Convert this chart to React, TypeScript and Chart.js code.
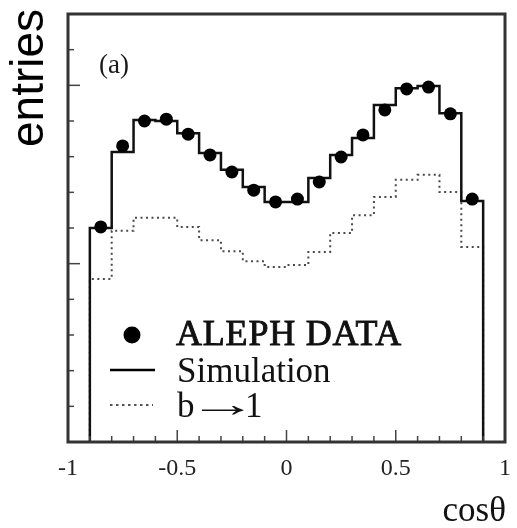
import { useEffect, useRef } from 'react';
import { Chart, registerables } from 'chart.js';

Chart.register(...registerables);

// Histogram binning in cos(theta)
const binEdges = [-0.9, -0.8, -0.7, -0.6, -0.5, -0.4, -0.3, -0.2, -0.1, 0, 0.1, 0.2, 0.3, 0.4, 0.5, 0.6, 0.7, 0.8, 0.9];
const binCenters = [-0.85, -0.75, -0.65, -0.55, -0.45, -0.35, -0.25, -0.15, -0.05, 0.05, 0.15, 0.25, 0.35, 0.45, 0.55, 0.65, 0.75, 0.85];

// Entries per bin
const alephData = [603, 830, 900, 905, 863, 805, 757, 706, 673, 681, 729, 799, 861, 931, 990, 995, 920, 681];
const simulation = [600, 813, 903, 900, 866, 810, 763, 715, 673, 673, 740, 805, 852, 945, 992, 998, 922, 676];
const bToLepton = [457, 592, 629, 629, 603, 566, 535, 507, 491, 496, 533, 586, 636, 687, 735, 749, 701, 547];

// Axis ticks
const xTickLabels = [-1, -0.5, 0, 0.5, 1];
const xMinorStep = 0.1;
const yMinorStep = 100;
const yMax = 1200;

function stepPoints(values: number[]) {
  const pts: { x: number; y: number }[] = [{ x: binEdges[0], y: 0 }];
  values.forEach((v, i) => {
    pts.push({ x: binEdges[i], y: v }, { x: binEdges[i + 1], y: v });
  });
  pts.push({ x: binEdges[binEdges.length - 1], y: 0 });
  return pts;
}

const decorations = {
  id: 'decorations',
  afterDraw(chart: any) {
    const { ctx, chartArea } = chart;
    const xs = chart.scales.x;
    const ys = chart.scales.y;
    const { left, right, top, bottom } = chartArea;
    ctx.save();

    // inward tick marks
    ctx.strokeStyle = '#444';
    ctx.lineWidth = 1.5;
    for (let i = -10; i <= 10; i++) {
      const v = i * xMinorStep;
      const px = xs.getPixelForValue(v);
      const len = i % 5 === 0 ? 12 : 6;
      ctx.beginPath();
      ctx.moveTo(px, bottom);
      ctx.lineTo(px, bottom - len);
      ctx.stroke();
    }
    for (let i = 0; i * yMinorStep <= yMax; i++) {
      const py = ys.getPixelForValue(i * yMinorStep);
      const len = i % 5 === 0 ? 12 : 6;
      ctx.beginPath();
      ctx.moveTo(left, py);
      ctx.lineTo(left + len, py);
      ctx.stroke();
    }

    // frame
    ctx.strokeStyle = '#333';
    ctx.lineWidth = 3;
    ctx.strokeRect(left, top, right - left, bottom - top);

    // panel label
    ctx.fillStyle = '#1a1a1a';
    ctx.textBaseline = 'alphabetic';
    ctx.textAlign = 'left';
    ctx.font = '27px "Liberation Serif"';
    ctx.fillText('(a)', 99, 73);

    // legend
    ctx.fillStyle = '#000';
    ctx.beginPath();
    ctx.arc(132, 335, 8.5, 0, Math.PI * 2);
    ctx.fill();

    ctx.strokeStyle = '#000';
    ctx.lineWidth = 2.5;
    ctx.beginPath();
    ctx.moveTo(110, 370);
    ctx.lineTo(155, 370);
    ctx.stroke();

    ctx.strokeStyle = '#555';
    ctx.lineWidth = 2;
    ctx.setLineDash([2.5, 3.5]);
    ctx.beginPath();
    ctx.moveTo(110, 405);
    ctx.lineTo(153, 405);
    ctx.stroke();
    ctx.setLineDash([]);

    ctx.fillStyle = '#111';
    ctx.strokeStyle = '#111';
    ctx.lineWidth = 0.9;
    ctx.font = '36px "Liberation Serif"';
    (ctx as any).letterSpacing = '0.8px';
    ctx.fillText('ALEPH DATA', 176, 345);
    ctx.strokeText('ALEPH DATA', 176, 345);
    (ctx as any).letterSpacing = '0px';
    ctx.font = '35px "Liberation Serif"';
    ctx.fillText('Simulation', 177, 382);
    ctx.fillText('b', 177, 417);
    ctx.fillText('1', 245, 417);
    // stretched arrow between "b" and "1"
    ctx.save();
    ctx.translate(188, 416);
    ctx.scale(1.95, 1);
    ctx.font = '36px "Liberation Serif"';
    ctx.fillText('→', 0, 0);
    ctx.restore();

    // axis titles
    ctx.font = '35px "Liberation Serif"';
    ctx.textAlign = 'right';
    ctx.fillText('cosθ', 506, 521);

    ctx.fillStyle = '#000';
    ctx.font = '46px "Liberation Sans"';
    ctx.textAlign = 'left';
    ctx.translate(43, 147);
    ctx.rotate(-Math.PI / 2);
    ctx.fillText('entries', 0, 0);

    ctx.restore();
  },
};

export default function App() {
  const canvasRef = useRef<HTMLCanvasElement | null>(null);

  useEffect(() => {
    const canvas = canvasRef.current;
    if (!canvas) return;
    const chart = new Chart(canvas, {
      type: 'scatter',
      data: {
        datasets: [
          {
            label: 'ALEPH DATA',
            data: binCenters.map((x, i) => ({ x, y: alephData[i] })),
            pointRadius: 6.5,
            pointBackgroundColor: '#000',
            pointBorderWidth: 0,
            showLine: false,
          },
          {
            label: 'Simulation',
            data: stepPoints(simulation),
            showLine: true,
            borderColor: '#111',
            borderWidth: 2.5,
            pointRadius: 0,
            tension: 0,
          },
          {
            label: 'b → 1',
            data: stepPoints(bToLepton),
            showLine: true,
            borderColor: '#4a4a4a',
            borderWidth: 2,
            borderDash: [2, 3.5],
            pointRadius: 0,
            tension: 0,
          },
        ],
      },
      options: {
        responsive: false,
        animation: false,
        layout: { padding: { left: 0, top: 14, right: 12, bottom: 0 } },
        plugins: {
          legend: { display: false },
          tooltip: { enabled: false },
        },
        scales: {
          x: {
            type: 'linear',
            min: -1,
            max: 1,
            afterFit(scale: any) {
              scale.height = 86;
              scale.paddingLeft = 0;
              scale.paddingRight = 0;
            },
            afterBuildTicks(scale: any) {
              scale.ticks = xTickLabels.map((v) => ({ value: v }));
            },
            grid: { display: false, drawTicks: false },
            border: { display: false },
            ticks: {
              padding: 12,
              color: '#222',
              font: { family: '"Liberation Serif"', size: 24 },
              callback: (v: any) => String(Number(v)),
              maxRotation: 0,
              autoSkip: false,
            },
          },
          y: {
            type: 'linear',
            min: 0,
            max: yMax,
            afterFit(scale: any) {
              scale.width = 68;
            },
            grid: { display: false },
            border: { display: false },
            ticks: { display: false },
          },
        },
      },
      plugins: [decorations],
    });
    return () => chart.destroy();
  }, []);

  return (
    <div style={{ position: 'fixed', left: 0, top: 0, width: 517, height: 528, background: '#fff' }}>
      <canvas ref={canvasRef} width={517} height={528} />
    </div>
  );
}
